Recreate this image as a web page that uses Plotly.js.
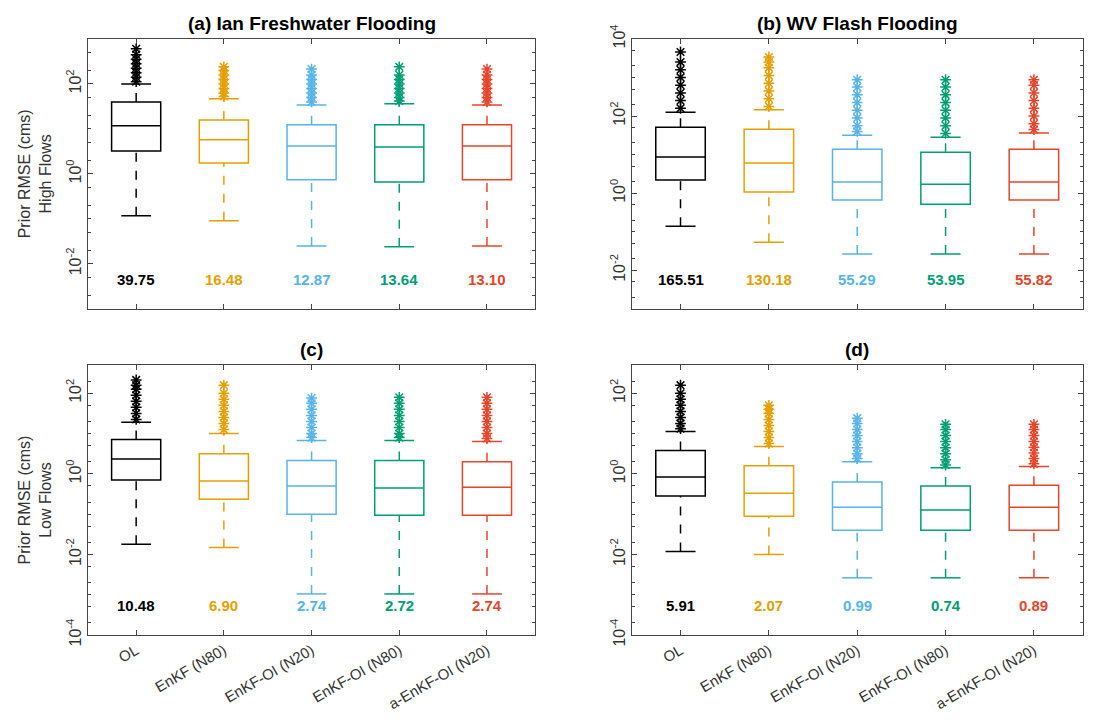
<!DOCTYPE html><html><head><script src="https://cdn.plot.ly/plotly-3.0.1.min.js"></script></head><body style="margin:0"><div id="c" style="width:1099px;height:720px"></div><script>
const methods=["OL","EnKF (N80)","EnKF-OI (N20)","EnKF-OI (N80)","a-EnKF-OI (N20)"];
const colors=["#000000","#E69F00","#56B4E9","#009E73","#E5452B"];
// log10 values: [low, q1, median, q3, high]
const statsA=[[-0.93,0.51,1.07,1.6,2.0],[-1.04,0.24,0.76,1.2,1.67],[-1.6,-0.13,0.62,1.09,1.53],[-1.62,-0.18,0.6,1.09,1.56],[-1.6,-0.13,0.62,1.09,1.53]];
const statsB=[[-0.86,0.34,0.94,1.71,2.1],[-1.27,0.03,0.78,1.66,2.16],[-1.58,-0.18,0.29,1.14,1.5],[-1.58,-0.29,0.23,1.06,1.45],[-1.58,-0.18,0.29,1.14,1.56]];
const statsC=[[-1.75,-0.15,0.37,0.85,1.28],[-1.83,-0.63,-0.18,0.5,1.0],[-2.98,-1.0,-0.3,0.33,0.83],[-2.98,-1.03,-0.35,0.33,0.83],[-2.98,-1.03,-0.33,0.3,0.8]];
const statsD=[[-1.93,-0.55,-0.08,0.58,1.05],[-2.0,-1.05,-0.48,0.2,0.68],[-2.58,-1.4,-0.83,-0.2,0.3],[-2.58,-1.4,-0.9,-0.3,0.15],[-2.58,-1.4,-0.83,-0.28,0.18]];
// outliers (log10)
const outA=[[2.05,2.15,2.25,2.35,2.45,2.55,2.65,2.78],[1.72,1.8,1.9,2.0,2.1,2.2,2.3,2.38],[1.6,1.7,1.8,1.9,2.0,2.1,2.2,2.33],[1.62,1.7,1.8,1.9,2.0,2.1,2.2,2.38],[1.6,1.7,1.8,1.9,2.0,2.1,2.2,2.33]];
const outB=[[2.2,2.4,2.6,2.8,3.0,3.2,3.4,3.66],[2.25,2.45,2.65,2.85,3.05,3.25,3.4,3.53],[1.6,1.75,1.95,2.15,2.35,2.55,2.75,2.94],[1.55,1.75,1.95,2.15,2.35,2.55,2.75,2.94],[1.65,1.8,2.0,2.2,2.4,2.6,2.8,2.94]];
const outC=[[1.35,1.5,1.65,1.8,1.95,2.1,2.2,2.33],[1.1,1.25,1.4,1.55,1.7,1.85,2.0,2.2],[0.9,1.0,1.15,1.3,1.45,1.6,1.75,1.88],[0.9,1.0,1.15,1.3,1.45,1.6,1.75,1.9],[0.88,1.0,1.15,1.3,1.45,1.6,1.75,1.9]];
const outD=[[1.12,1.25,1.4,1.55,1.7,1.85,2.0,2.2],[0.75,0.9,1.05,1.2,1.35,1.5,1.6,1.7],[0.38,0.5,0.65,0.8,0.95,1.1,1.25,1.38],[0.22,0.35,0.5,0.65,0.8,0.95,1.1,1.23],[0.25,0.38,0.52,0.66,0.8,0.95,1.1,1.23]];
const rmseA=["39.75","16.48","12.87","13.64","13.10"];
const rmseB=["165.51","130.18","55.29","53.95","55.82"];
const rmseC=["10.48","6.90","2.74","2.72","2.74"];
const rmseD=["5.91","2.07","0.99","0.74","0.89"];
const titles=["(a) Ian Freshwater Flooding","(b) WV Flash Flooding","(c)","(d)"];
const panels=[statsA,statsB,statsC,statsD],outs=[outA,outB,outC,outD],rmses=[rmseA,rmseB,rmseC,rmseD];
const P=v=>Math.pow(10,v);
let traces=[],ann=[];
panels.forEach((st,p)=>{
 const xa=p==0?"x":"x"+(p+1), ya=p==0?"y":"y"+(p+1);
 st.forEach((s,i)=>{
  const c=colors[i];
  traces.push({type:"box",x:[i],q1:[P(s[1])],median:[P(s[2])],q3:[P(s[3])],lowerfence:[P(s[1])],upperfence:[P(s[3])],width:0.56,fillcolor:"rgba(0,0,0,0)",line:{color:c,width:1.5},xaxis:xa,yaxis:ya,showlegend:false,hoverinfo:"skip"});
  traces.push({type:"scatter",mode:"lines",x:[i,i,null,i,i],y:[P(s[0]),P(s[1]),null,P(s[3]),P(s[4])],line:{color:c,width:1.5,dash:"dash"},xaxis:xa,yaxis:ya,showlegend:false});
  traces.push({type:"scatter",mode:"lines",x:[i-0.17,i+0.17,null,i-0.17,i+0.17],y:[P(s[0]),P(s[0]),null,P(s[4]),P(s[4])],line:{color:c,width:1.5},xaxis:xa,yaxis:ya,showlegend:false});
  traces.push({type:"scatter",mode:"markers",x:outs[p][i].map(()=>i),y:outs[p][i].map(P),marker:{symbol:"asterisk-open",size:9,color:c,line:{color:c,width:1.5}},xaxis:xa,yaxis:ya,showlegend:false});
  ann.push({xref:xa,yref:ya+" domain",x:i,y:0.07,text:"<b>"+rmses[p][i]+"</b>",showarrow:false,font:{size:15,color:c}});
 });
 ann.push({xref:xa+" domain",yref:ya+" domain",x:0.5,y:1.01,yanchor:"bottom",text:"<b>"+titles[p]+"</b>",showarrow:false,font:{size:19,color:"#000"}});
});
const sup=e=>"10<sup>"+e+"</sup>";
function yax(range,vals,dom,title){return {type:"log",range:range,domain:dom,tickvals:vals.map(P),ticktext:vals.map(v=>sup(v<0?"-"+(-v):v)),tickangle:-90,ticks:"inside",ticklen:5,minor:{ticks:"inside",ticklen:3,tickcolor:"#444"},showline:true,mirror:"ticks",linecolor:"#444",linewidth:1,showgrid:false,zeroline:false,tickfont:{size:16,color:"#333"},title:{text:title,font:{size:16,color:"#333"},standoff:8}};}
function xax(dom,labels,yanch){return {domain:dom,range:[-0.55,4.55],tickvals:[0,1,2,3,4],ticktext:labels?methods:methods.map(()=>""),tickangle:-30,ticks:"inside",ticklen:5,showline:true,mirror:"ticks",linecolor:"#444",linewidth:1,showgrid:false,zeroline:false,anchor:yanch,tickfont:{size:15,color:"#333"}};}
const L=[0.08,0.487],R=[0.575,0.985],T=[0.571,0.946],B=[0.118,0.493];
const layout={width:1099,height:720,margin:{l:0,r:0,t:0,b:0},paper_bgcolor:"#fff",plot_bgcolor:"#fff",font:{family:"Liberation Sans, Arial, sans-serif"},
 xaxis:xax(L,false,"y"),yaxis:yax([-3,3],[-2,0,2],T,"Prior RMSE (cms)<br>High Flows"),
 xaxis2:xax(R,false,"y2"),yaxis2:yax([-3,4],[-2,0,2,4],T,""),
 xaxis3:xax(L,true,"y3"),yaxis3:yax([-4,2.7],[-4,-2,0,2],B,"Prior RMSE (cms)<br>Low Flows"),
 xaxis4:xax(R,true,"y4"),yaxis4:yax([-4,2.7],[-4,-2,0,2],B,""),
 annotations:ann};
layout.yaxis.anchor="x";layout.yaxis2.anchor="x2";layout.yaxis3.anchor="x3";layout.yaxis4.anchor="x4";
Plotly.newPlot("c",traces,layout,{displayModeBar:false});
</script></body></html>
